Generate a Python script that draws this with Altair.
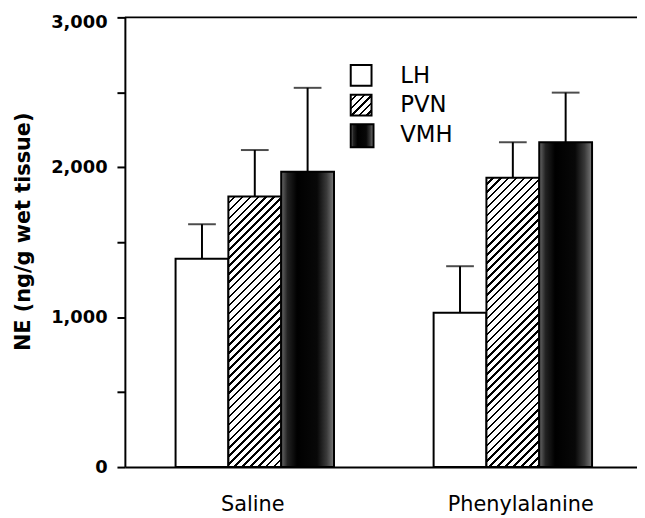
import altair as alt
import pandas as pd

# ---- data ----
groups = ["Saline", "Phenylalanine"]
regions = ["LH", "PVN", "VMH"]
saline_mean = [1390, 1805, 1970]
saline_upper = [1620, 2115, 2530]
phe_mean = [1030, 1930, 2167]
phe_upper = [1340, 2167, 2498]
y_tick_values = [0, 500, 1000, 1500, 2000, 2500, 3000]
legend_labels = ["LH", "PVN", "VMH"]

rows = []
for g, means, uppers in [(groups[0], saline_mean, saline_upper),
                         (groups[1], phe_mean, phe_upper)]:
    for r, m, u in zip(regions, means, uppers):
        rows.append({"group": g, "region": r, "mean": m, "upper": u})
df = pd.DataFrame(rows)

# ---- layout ----
W, H = 517, 454
YMAX = 3000
P_IN, P_OUT, ALIGN = 0.386, 0.1853, 0.53
step = W / (len(groups) - P_IN + 2 * P_OUT)
bar_w = step * (1 - P_IN) / len(regions)


def hatch(w, h, period=8.0, frac=0.32):
    L = w + h
    stops = []
    k = 0
    while k * period < L:
        a = k * period / L
        b = min((k + 1 - frac) * period / L, 1)
        c = min((k + 1) * period / L, 1)
        stops += [alt.GradientStop(color="white", offset=a),
                  alt.GradientStop(color="white", offset=b),
                  alt.GradientStop(color="black", offset=b),
                  alt.GradientStop(color="black", offset=c)]
        k += 1
    cc = (w + h) / (w * w + h * h)
    return alt.LinearGradient(gradient="linear", stops=stops,
                              x1=0, y1=0, x2=cc * w, y2=cc * h)


stipple = alt.LinearGradient(
    gradient="linear", x1=0, y1=0, x2=1, y2=0,
    stops=[alt.GradientStop(color="#6a6a6a", offset=0),
           alt.GradientStop(color="#222222", offset=0.12),
           alt.GradientStop(color="#000000", offset=0.3),
           alt.GradientStop(color="#080808", offset=0.68),
           alt.GradientStop(color="#3a3a3a", offset=0.86),
           alt.GradientStop(color="#7a7a7a", offset=1)])

y_axis = alt.Axis(
    title="NE (ng/g wet tissue)", values=y_tick_values,
    labelExpr="datum.value % 1000 == 0 ? format(datum.value, ',') : ''",
    grid=False, tickSize=8, tickWidth=2, tickColor="black",
    domainWidth=2, domainColor="black",
    labelFont="DejaVu Sans", labelFontWeight="bold", labelFontSize=18,
    labelColor="black", labelPadding=10, labelFlush=False, labelOverlap=False,
    labelOffset={"condition": {"test": "datum.value == 3000", "value": 5}, "value": 0},
    titleFont="DejaVu Sans", titleFontWeight="bold", titleFontSize=21,
    titleColor="black", titleAngle=270, titleAlign="center",
    titleBaseline="middle", titleX=-102, titleY=216)
y_scale = alt.Scale(domain=[0, YMAX], nice=False)

x_enc = alt.X("group:N", sort=groups,
              scale=alt.Scale(domain=groups, paddingInner=P_IN,
                              paddingOuter=P_OUT, align=ALIGN),
              axis=alt.Axis(title=None, labelAngle=0, ticks=False,
                            domainWidth=2, domainColor="black",
                            labelFont="DejaVu Sans", labelFontSize=21,
                            labelColor="black", labelPadding=27,
                            labelOffset={"condition": {"test": "datum.value == 'Phenylalanine'",
                                                       "value": 8}, "value": -2}))
xoff = alt.XOffset("region:N", sort=regions,
                   scale=alt.Scale(domain=regions, paddingInner=0, paddingOuter=0))

base = alt.Chart(df).encode(x=x_enc, xOffset=xoff)

bars_y = alt.Y("mean:Q", stack=None, scale=y_scale, axis=y_axis)

lh = base.transform_filter(alt.datum.region == "LH").mark_bar(
    fill="white", stroke="black", strokeWidth=2).encode(y=bars_y)

layers = [lh]
for g, means in [(groups[0], saline_mean), (groups[1], phe_mean)]:
    h_px = means[1] * H / YMAX
    layers.append(
        base.transform_filter((alt.datum.region == "PVN") & (alt.datum.group == g))
        .mark_bar(fill=hatch(bar_w, h_px), stroke="black", strokeWidth=2)
        .encode(y=bars_y))

vmh = base.transform_filter(alt.datum.region == "VMH").mark_bar(
    fill=stipple, stroke="black", strokeWidth=2).encode(y=bars_y)
layers.append(vmh)

err = base.mark_rule(color="black", strokeWidth=2).encode(
    y=alt.Y("mean:Q", stack=None, scale=y_scale, axis=y_axis), y2="upper:Q")
cap = base.mark_tick(color="black", thickness=2, size=28).encode(
    y=alt.Y("upper:Q", stack=None, scale=y_scale, axis=y_axis))
layers += [err, cap]

top = alt.Chart(pd.DataFrame({"v": [YMAX]})).mark_rule(
    color="black", strokeWidth=2).encode(y=alt.Y("v:Q", scale=y_scale, axis=y_axis))
layers.append(top)

# ---- legend (drawn inside plot) ----
leg_fills = ["white", hatch(22, 22), stipple]
leg_y0 = [48, 78, 108]
for lab, fill, y0 in zip(legend_labels, leg_fills, leg_y0):
    ldf = pd.DataFrame({"label": [lab]})
    size = 23 if lab == "VMH" else 21
    layers.append(alt.Chart(ldf).mark_rect(fill=fill, stroke="black", strokeWidth=2).encode(
        x=alt.value(228), x2=alt.value(228 + size),
        y=alt.value(y0), y2=alt.value(y0 + size)))
    layers.append(alt.Chart(ldf).mark_text(
        align="left", baseline="middle", font="DejaVu Sans", fontSize=23,
        color="black").encode(x=alt.value(278), y=alt.value(y0 + 11), text="label:N"))

chart = alt.layer(*layers).properties(
    width=W, height=H,
    autosize=alt.AutoSizeParams(type="none"),
    padding={"left": 118, "top": 7, "right": 0, "bottom": 56},
    background="white",
).configure_view(stroke=None)

chart.save("out.html", embed_options={"renderer": "svg", "actions": False})
